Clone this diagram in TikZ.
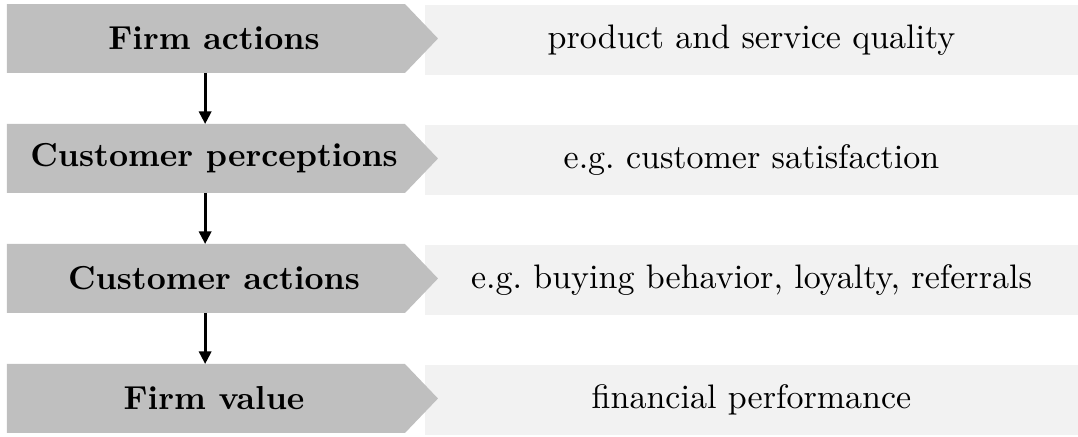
\documentclass[tikz,border=0pt]{standalone}
\usetikzlibrary{arrows.meta}
\definecolor{chevgray}{RGB}{191,191,191}
\definecolor{boxgray}{RGB}{242,242,242}
\begin{document}
\begin{tikzpicture}[
        stage/.style={inner sep=0pt, font=\fontsize{9.76pt}{12pt}\selectfont\bfseries},
        detail/.style={rectangle, fill=boxgray, inner sep=0pt, outer sep=0pt,
            minimum width=6.748cm, minimum height=0.723cm},
        flow/.style={thick, -{Triangle[width=3.6pt,length=3.7pt]}}
    ]
        \useasboundingbox (0, 0) rectangle (11.14, 4.516);

        \node[detail] (q) at (7.766, 4.103) { product and service quality };
        \node[detail] (s) at (7.766, 2.863) { e.g.\ customer satisfaction };
        \node[detail] (b) at (7.766, 1.623) { e.g.\ buying behavior, loyalty, referrals };
        \node[detail] (p) at (7.766, 0.383) { financial performance };

        % chevrons
        \fill[chevgray] (0.072, 4.4745) -- (4.185, 4.4745) -- (4.526, 4.118) -- (4.185, 3.7615) -- (0.072, 3.7615) -- cycle;
        \fill[chevgray] (0.072, 3.2345) -- (4.185, 3.2345) -- (4.526, 2.878) -- (4.185, 2.5215) -- (0.072, 2.5215) -- cycle;
        \fill[chevgray] (0.072, 1.9945) -- (4.185, 1.9945) -- (4.526, 1.638) -- (4.185, 1.2815) -- (0.072, 1.2815) -- cycle;
        \fill[chevgray] (0.072, 0.7545) -- (4.185, 0.7545) -- (4.526, 0.398) -- (4.185, 0.0415) -- (0.072, 0.0415) -- cycle;

        \node[stage] (fa) at (2.212, 4.118) { Firm actions };
        \node[stage] (cp) at (2.212, 2.878) { Customer perceptions };
        \node[stage] (ca) at (2.212, 1.638) { Customer actions };
        \node[stage] (fv) at (2.212, 0.398) { Firm value };

        \coordinate (fa-s) at (2.12, 3.7615);
        \coordinate (cp-n) at (2.12, 3.2345);
        \coordinate (cp-s) at (2.12, 2.5215);
        \coordinate (ca-n) at (2.12, 1.9945);
        \coordinate (ca-s) at (2.12, 1.2815);
        \coordinate (fv-n) at (2.12, 0.7545);

        \draw[flow] (fa-s) -- (cp-n);
        \draw[flow] (cp-s) -- (ca-n);
        \draw[flow] (ca-s) -- (fv-n);

    \end{tikzpicture}
\end{document}
